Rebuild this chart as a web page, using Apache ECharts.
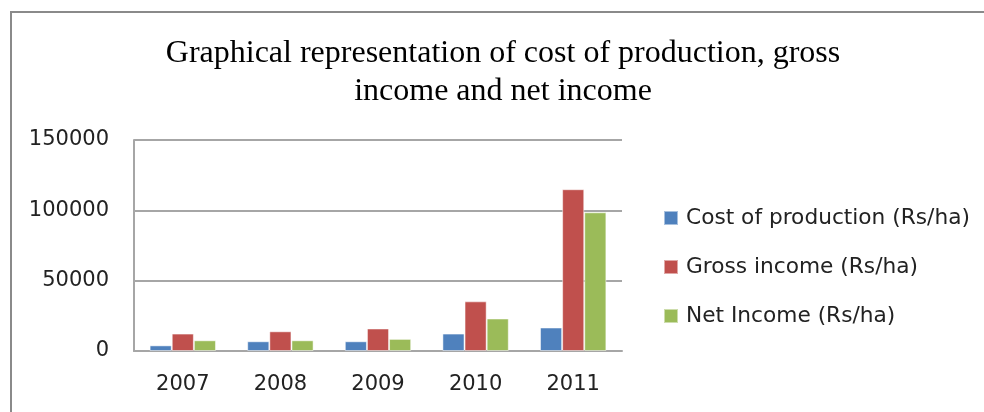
<!DOCTYPE html>
<html>
<head>
<meta charset="utf-8">
<script src="https://cdn.jsdelivr.net/npm/echarts@6/dist/echarts.min.js"></script>
<style>html,body{margin:0;padding:0;background:#fff}#c{width:984px;height:412px}</style>
</head>
<body>
<div id="c"></div>
<script>
const titleText = "Graphical representation of cost of production, gross\nincome and net income";
const years = ["2007", "2008", "2009", "2010", "2011"];
const seriesNames = ["Cost of production (Rs/ha)", "Gross income (Rs/ha)", "Net Income (Rs/ha)"];
const costOfProduction = [4000, 6900, 6900, 12400, 16700];
const grossIncome = [12400, 14000, 16000, 35300, 115000];
const netIncome = [7600, 7600, 8600, 23100, 98600];
const yTicks = { min: 0, max: 150000, interval: 50000 };
const colors = ["#4F81BD", "#C0504D", "#9BBB59"];

const chart = echarts.init(document.getElementById('c'), null, { renderer: 'canvas' });
const labelFont = "'DejaVu Sans', 'Open Sans', sans-serif";
const seriesData = [costOfProduction, grossIncome, netIncome];
chart.setOption({
  animation: false,
  backgroundColor: '#ffffff',
  graphic: [{
    type: 'rect', shape: { x: 11, y: 12, width: 1000, height: 500 },
    style: { fill: 'none', stroke: '#8a8a8a', lineWidth: 2 }, silent: true
  }],
  title: {
    text: titleText,
    left: 498,
    textAlign: 'center',
    top: 30,
    padding: 5,
    textStyle: { fontFamily: "'Liberation Serif', serif", fontSize: 32, fontWeight: 'normal', color: '#000', lineHeight: 38 }
  },
  legend: {
    orient: 'vertical',
    left: 658, top: 202,
    itemWidth: 14, itemHeight: 14, itemGap: 27,
    icon: 'rect',
    textStyle: { fontFamily: labelFont, fontSize: 21.7, color: '#222', padding: [0, 0, 0, 3] },
    data: seriesNames
  },
  grid: { left: 134, top: 140, width: 488, height: 211, containLabel: false },
  xAxis: {
    type: 'category', data: years,
    axisLine: { lineStyle: { color: '#a6a6a6', width: 2 } },
    axisTick: { show: false },
    axisLabel: { fontFamily: labelFont, fontSize: 21, color: '#222', margin: 23 }
  },
  yAxis: {
    type: 'value', min: yTicks.min, max: yTicks.max, interval: yTicks.interval,
    axisLine: { show: true, lineStyle: { color: '#a6a6a6', width: 2 } },
    axisTick: { show: false },
    splitLine: { lineStyle: { color: '#a6a6a6', width: 2 } },
    axisLabel: { fontFamily: labelFont, fontSize: 21, color: '#222', margin: 25, formatter: v => String(v) }
  },
  series: seriesNames.map((n, i) => ({
    name: n, type: 'bar', data: seriesData[i],
    barGap: '0%', barCategoryGap: '32%',
    itemStyle: { color: colors[i], borderColor: 'rgba(255,255,255,0.5)', borderWidth: 1 }
  }))
});
</script>
</body>
</html>
